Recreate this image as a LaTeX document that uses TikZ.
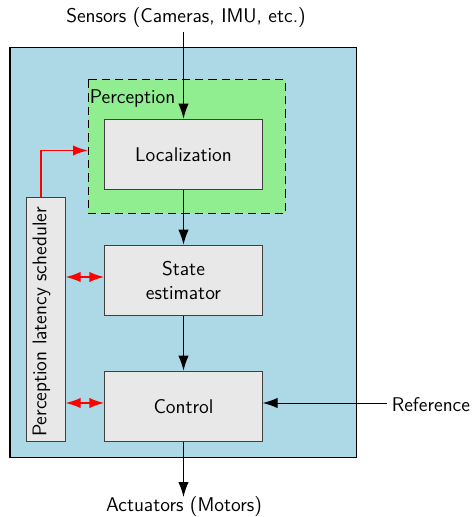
\documentclass[tikz,border=0pt]{standalone}
\usetikzlibrary{arrows.meta,calc}
\renewcommand{\familydefault}{\sfdefault}
\definecolor{skyfill}{RGB}{173,216,230}
\definecolor{percfill}{RGB}{144,238,144}
\definecolor{blockfill}{RGB}{232,232,232}
\begin{document}
\begin{tikzpicture}[x=0.6pt,y=-0.6pt,
  txt/.style={font=\fontsize{11.9}{14}\selectfont},
  block/.style={draw=black!75,fill=blockfill,line width=0.6pt,minimum width=94.4pt,minimum height=42.4pt,align=center,inner sep=0pt,txt},
  flow/.style={-{Latex[length=9pt,width=6.2pt]},line width=0.6pt},
  sched/.style={red,line width=1.1pt},
  lbl/.style={txt,inner sep=0pt}]
\useasboundingbox (0,0) rectangle (471,517);

% system container
\draw[fill=skyfill,line width=0.9pt] (10,47.5) rectangle (356.5,457.5);

% perception group
\draw[fill=percfill,line width=0.6pt,dash pattern=on 5pt off 3pt] (88,80) rectangle (285.7,213.3);
\node[lbl,anchor=north west] (perc) at (89.5,89) {Perception};

% processing blocks
\node[block] (loc) at (183.5,154.5) {Localization};
\node[block] (est) at (183.5,280.5) {State\\estimator};
\node[block] (ctrl) at (183.5,406.5) {Control};

% scheduler
\node[draw=black!75,fill=blockfill,line width=0.6pt,minimum width=23.4pt,minimum height=146.8pt,inner sep=0pt] (sch) at (45.5,319.5) {};
\node[lbl,rotate=90] (schtxt) at (41.5,322) {Perception latency scheduler};

% external signals
\node[lbl] (sens) at (186,18) {Sensors (Cameras, IMU, etc.)};
\node[lbl,anchor=west] (ref) at (391.5,404.5) {Reference};
\node[lbl] (act) at (184,507) {Actuators (Motors)};
\coordinate (sensin) at (183.5,32.5);
\coordinate (actout) at (183.5,497);
\coordinate (refin) at (387,403);

% data flow
\draw[flow] (sensin) -- (loc.north);
\draw[flow] (loc.south) -- (est.north);
\draw[flow] (est.south) -- (ctrl.north);
\draw[flow] (ctrl.south) -- (actout);
\draw[flow] (refin) -- (ctrl.east |- refin);

% scheduler links
\coordinate (trig) at (41.3,150.5);
\draw[sched,-{Latex[length=9pt,width=6.2pt]}] (sch.north -| trig) -- (trig) -- (88,150.5);
\draw[sched,{Latex[length=9pt,width=6.2pt]}-{Latex[length=9pt,width=6.2pt]}] ($(sch.east |- est.west)+(0,-3.5)$) -- ($(est.west)+(0,-3.5)$);
\draw[sched,{Latex[length=9pt,width=6.2pt]}-{Latex[length=9pt,width=6.2pt]}] ($(sch.east |- ctrl.west)+(0,-3.5)$) -- ($(ctrl.west)+(0,-3.5)$);
\end{tikzpicture}
\end{document}
